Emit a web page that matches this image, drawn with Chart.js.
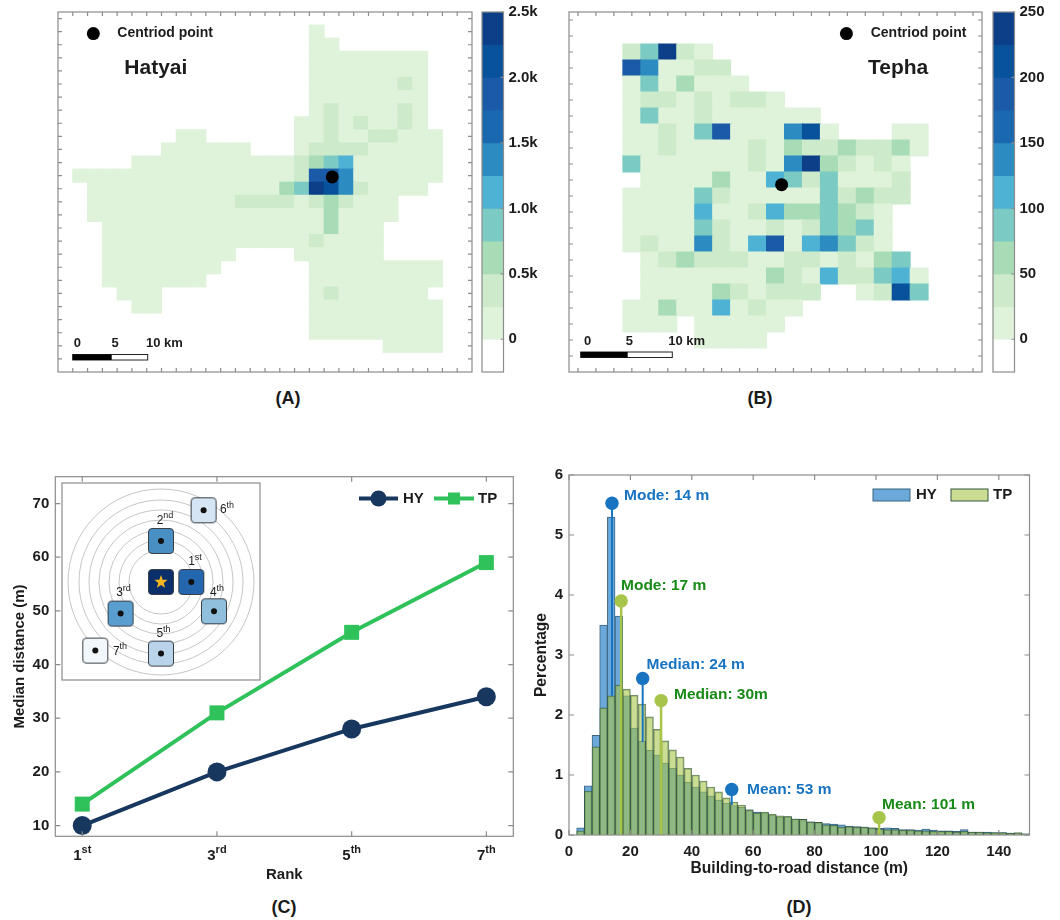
<!DOCTYPE html>
<html>
<head>
<meta charset="utf-8">
<title>Building-to-road distance, Hatyai and Tepha</title>
<script src="https://cdn.jsdelivr.net/npm/chart.js@4"></script>
<style>
  body { margin: 0; background: #fff; }
  canvas { position: absolute; }
  .cap { position: absolute; font: bold 18px "Liberation Sans", Arial, sans-serif; color: #1a1a1a;
         transform: translate(-50%, -50%); }
</style>
</head>
<body>
<canvas id="mapA"></canvas><canvas id="barA"></canvas>
<canvas id="mapB"></canvas><canvas id="barB"></canvas>
<canvas id="rankChart"></canvas><canvas id="inset"></canvas>
<canvas id="histChart"></canvas>
<div class="cap" style="left:288px;top:398px">(A)</div>
<div class="cap" style="left:760px;top:398px">(B)</div>
<div class="cap" style="left:284px;top:907px">(C)</div>
<div class="cap" style="left:799px;top:907px">(D)</div>
<script>
// colour bar: band 0 is below zero (white), bands 1-10 go up in equal steps
const bandColors = ['#ffffff', '#dff2da', '#cdeacb', '#a8dcb6', '#7bcac3', '#4eb2d4', '#2c8bc0', '#1a68b0', '#1a5aa6', '#08529c', '#0c3f88'];
const hatyaiEdges = [-0.25, 0, 0.25, 0.5, 0.75, 1, 1.25, 1.5, 1.75, 2, 2.25, 2.5];
const hatyaiTicks = [0, 0.5, 1, 1.5, 2, 2.5];
const hatyaiTickLabels = ['0', '0.5k', '1.0k', '1.5k', '2.0k', '2.5k'];
const tephaEdges = [-25, 0, 25, 50, 75, 100, 125, 150, 175, 200, 225, 250];
const tephaTicks = [0, 50, 100, 150, 200, 250];
const tephaTickLabels = ['0', '50', '100', '150', '200', '250'];

// grid cells as colour bands: [row, first column, bands], 0 = no data
const hatyaiCells = [
  [1, 17, [1]],
  [2, 17, [1, 1]],
  [3, 17, [1, 1, 1, 1, 1, 1, 1, 1]],
  [4, 17, [1, 1, 1, 1, 1, 1, 1, 1]],
  [5, 17, [1, 1, 1, 1, 1, 1, 2, 1]],
  [6, 17, [1, 1, 1, 1, 1, 1, 1, 1]],
  [7, 17, [1, 2, 1, 1, 1, 1, 2, 1]],
  [8, 16, [1, 1, 2, 1, 2, 1, 1, 2, 1]],
  [9, 8, [1, 1, 0, 0, 0, 0, 0, 0, 1, 1, 2, 1, 1, 2, 2, 1, 1, 1]],
  [10, 7, [1, 1, 1, 1, 1, 1, 0, 0, 0, 1, 2, 2, 2, 2, 1, 1, 1, 1, 1]],
  [11, 5, [1, 1, 1, 1, 1, 1, 1, 1, 1, 1, 1, 2, 3, 4, 5, 1, 1, 1, 1, 1, 1]],
  [12, 1, [1, 1, 1, 1, 1, 1, 1, 1, 1, 1, 1, 1, 1, 1, 1, 2, 8, 8, 6, 1, 1, 1, 1, 1, 1]],
  [13, 2, [1, 1, 1, 1, 1, 1, 1, 1, 1, 1, 1, 1, 1, 3, 4, 10, 9, 6, 2, 1, 1, 1, 1]],
  [14, 2, [1, 1, 1, 1, 1, 1, 1, 1, 1, 1, 2, 2, 2, 2, 1, 2, 3, 2, 1, 1, 1]],
  [15, 2, [1, 1, 1, 1, 1, 1, 1, 1, 1, 1, 1, 1, 1, 1, 1, 1, 3, 1, 1, 1, 1]],
  [16, 3, [1, 1, 1, 1, 1, 1, 1, 1, 1, 1, 1, 1, 1, 1, 1, 3, 1, 1, 1]],
  [17, 3, [1, 1, 1, 1, 1, 1, 1, 1, 1, 1, 1, 1, 1, 1, 2, 1, 1, 1, 1]],
  [18, 3, [1, 1, 1, 1, 1, 1, 1, 1, 1, 0, 0, 0, 0, 1, 1, 1, 1, 1, 1]],
  [19, 3, [1, 1, 1, 1, 1, 1, 1, 1, 0, 0, 0, 0, 0, 0, 1, 1, 1, 1, 1, 1, 1, 1, 1]],
  [20, 3, [1, 1, 1, 1, 1, 1, 1, 0, 0, 0, 0, 0, 0, 0, 1, 1, 1, 1, 1, 1, 1, 1, 1]],
  [21, 4, [1, 1, 1, 0, 0, 0, 0, 0, 0, 0, 0, 0, 0, 1, 2, 1, 1, 1, 1, 1, 1]],
  [22, 5, [1, 1, 0, 0, 0, 0, 0, 0, 0, 0, 0, 0, 1, 1, 1, 1, 1, 1, 1, 1, 1]],
  [23, 17, [1, 1, 1, 1, 1, 1, 1, 1, 1]],
  [24, 17, [1, 1, 1, 1, 1, 1, 1, 1, 1]],
  [25, 22, [1, 1, 1, 1]]
];
const tephaCells = [
  [2, 3, [2, 4, 10, 2, 1]],
  [3, 3, [8, 6, 1, 1, 2, 2]],
  [4, 3, [1, 4, 1, 3, 1, 1, 1]],
  [5, 3, [1, 2, 2, 1, 2, 1, 2, 2, 1]],
  [6, 3, [1, 4, 1, 1, 2, 1, 1, 1, 1, 1, 1]],
  [7, 3, [1, 1, 2, 1, 4, 8, 1, 1, 1, 6, 9, 1, 0, 0, 0, 1, 1]],
  [8, 3, [1, 1, 2, 1, 1, 1, 1, 2, 1, 3, 2, 2, 3, 2, 2, 3, 1]],
  [9, 3, [4, 1, 1, 1, 1, 1, 1, 2, 1, 6, 10, 3, 2, 1, 2, 1]],
  [10, 4, [1, 1, 1, 1, 3, 1, 1, 5, 4, 2, 4, 1, 1, 1, 2]],
  [11, 3, [1, 1, 1, 1, 4, 2, 1, 1, 1, 1, 1, 4, 2, 3, 2, 2]],
  [12, 3, [1, 1, 1, 1, 5, 1, 1, 2, 5, 3, 3, 4, 3, 2, 1]],
  [13, 3, [1, 1, 1, 1, 4, 2, 1, 1, 2, 1, 2, 4, 3, 4, 1]],
  [14, 3, [1, 2, 1, 1, 6, 2, 1, 5, 8, 1, 5, 6, 4, 2, 1]],
  [15, 4, [1, 2, 3, 2, 2, 2, 1, 1, 2, 2, 1, 2, 1, 3, 4]],
  [16, 4, [1, 1, 1, 1, 1, 1, 1, 3, 2, 1, 5, 2, 2, 4, 5, 1]],
  [17, 4, [1, 1, 1, 1, 3, 2, 1, 2, 2, 2, 0, 0, 1, 2, 9, 4]],
  [18, 3, [1, 1, 3, 1, 1, 5, 1, 2, 1, 1]],
  [19, 3, [1, 1, 1, 0, 1, 1, 1, 1, 1]],
  [20, 7, [1, 1, 1, 1]]
];
const hatyaiCentroid = [{ x: 18.55, y: 12.6 }];
const tephaCentroid = [{ x: 11.84, y: 10.79 }];
const hatyaiKey = [{ x: 2.39, y: 1.65 }];
const tephaKey = [{ x: 15.45, y: 1.35 }];

// panel C
const ranks = [1, 3, 5, 7];
const rankLabels = [['1', 'st'], ['3', 'rd'], ['5', 'th'], ['7', 'th']];
const hyMedian = [10, 20, 28, 34];
const tpMedian = [14, 31, 46, 59];
const medianTicks = [10, 20, 30, 40, 50, 60, 70];

// inset of panel C: neighbour cells around the centre cell
const ringRadii = [32, 42, 52, 62, 72, 82, 93];
const neighbourX = [129.3, 99, 58.6, 152, 99, 141.6, 33.3];
const neighbourY = [99, 58, 130.6, 128.3, 170.6, 27.3, 167.6];
const neighbourShades = ['#2567ae', '#4a8fc4', '#5a9ecf', '#8fbfdc', '#b9d3ea', '#d5e5f4', '#f2f7fc'];

// panel D, bins are 2.5 m wide
const binStarts = [2.5, 5, 7.5, 10, 12.5, 15, 17.5, 20, 22.5, 25, 27.5, 30, 32.5, 35, 37.5, 40, 42.5, 45, 47.5, 50,
  52.5, 55, 57.5, 60, 62.5, 65, 67.5, 70, 72.5, 75, 77.5, 80, 82.5, 85, 87.5, 90, 92.5, 95, 97.5, 100,
  102.5, 105, 107.5, 110, 112.5, 115, 117.5, 120, 122.5, 125, 127.5, 130, 132.5, 135, 137.5, 140, 142.5, 145, 147.5];
const hyPercent = [.12, .82, 1.66, 3.5, 5.3, 3.65, 2.32, 1.78, 1.56, 1.41, 1.33, 1.2, 1.11, 1.0, .88, .8, .72, .65, .58, .53,
  .49, .46, .42, .38, .37, .33, .3, .3, .26, .26, .22, .21, .19, .18, .17, .15, .14, .13, .12, .11,
  .12, .11, .09, .09, .08, .1, .08, .07, .07, .06, .09, .05, .05, .05, .04, .04, .03, .03, .02];
const tpPercent = [.07, .73, 1.47, 2.12, 2.32, 2.5, 2.43, 2.33, 2.18, 1.97, 1.76, 1.57, 1.42, 1.3, 1.11, 1.0, .9, .8, .72, .62,
  .55, .5, .42, .37, .38, .35, .32, .31, .27, .26, .22, .21, .17, .16, .13, .14, .13, .13, .12, .1,
  .09, .09, .08, .08, .07, .07, .06, .06, .06, .05, .06, .05, .05, .04, .04, .04, .03, .04, .02];
const hyStatX = [14, 24, 53];
const hyStatTop = [5.53, 2.61, 0.76];
const hyStatFoot = [2.32, 1.55, 0.5];
const tpStatX = [17, 30, 101];
const tpStatTop = [3.9, 2.24, 0.29];
const percentTicks = [0, 1, 2, 3, 4, 5, 6];
const distanceTicks = [0, 20, 40, 60, 80, 100, 120, 140];

const FONT = '"Liberation Sans", Arial, sans-serif';
const INK = '#1c1c1c';
const FRAME = '#8c8c8c';
Chart.defaults.font.family = FONT;
Chart.defaults.animation = false;
Chart.defaults.responsive = false;
Chart.defaults.layout.autoPadding = false;
Chart.defaults.plugins.legend.display = false;
Chart.defaults.plugins.tooltip.enabled = false;

// box around the plot with short ticks pointing inwards
const framePlugin = {
  id: 'frame',
  afterDatasetsDraw(chart, args, opts) {
    const { ctx, chartArea: a, scales } = chart;
    const len = opts.len || 5;
    ctx.save();
    ctx.strokeStyle = FRAME;
    ctx.lineWidth = 1.2;
    ctx.strokeRect(a.left, a.top, a.right - a.left, a.bottom - a.top);
    ctx.beginPath();
    if (!opts.barOnly) {
      scales.x.ticks.forEach(t => {
        const x = scales.x.getPixelForValue(t.value);
        ctx.moveTo(x, a.bottom); ctx.lineTo(x, a.bottom - len);
        ctx.moveTo(x, a.top); ctx.lineTo(x, a.top + len);
      });
    }
    scales.y.ticks.forEach(t => {
      const y = scales.y.getPixelForValue(t.value);
      ctx.moveTo(a.right, y); ctx.lineTo(a.right - len, y);
      if (!opts.barOnly) { ctx.moveTo(a.left, y); ctx.lineTo(a.left + len, y); }
    });
    ctx.stroke();
    ctx.restore();
  }
};

// text written on top of a chart, x and y are page pixels
function drawNote(ctx, n) {
  const size = n.size || 14;
  ctx.fillStyle = n.color || INK;
  ctx.textBaseline = 'middle';
  ctx.textAlign = 'left';
  const font = `${n.weight || 'bold'} ${size}px ${FONT}`;
  const supFont = `${n.weight || 'bold'} ${Math.round(size * 0.72)}px ${FONT}`;
  ctx.font = font;
  const w = ctx.measureText(n.t).width;
  ctx.font = supFont;
  const sw = n.sup ? ctx.measureText(n.sup).width : 0;
  const left = n.center ? n.x - (w + sw) / 2 : n.x;
  ctx.font = font;
  ctx.fillText(n.t, left, n.y);
  if (n.sup) {
    ctx.font = supFont;
    ctx.fillText(n.sup, left + w, n.y - size * 0.38);
  }
}
const notesPlugin = {
  id: 'notes',
  afterDraw(chart, args, opts) {
    const { ctx, canvas } = chart;
    ctx.save();
    ctx.translate(-canvas.offsetLeft, -canvas.offsetTop);
    (opts.items || []).forEach(n => drawNote(ctx, n));
    if (opts.paint) opts.paint(ctx);
    ctx.restore();
  }
};
Chart.register(framePlugin, notesPlugin);

function place(id, left, top, width, height) {
  const c = document.getElementById(id);
  c.width = width; c.height = height;
  c.style.left = left + 'px'; c.style.top = top + 'px';
  return c;
}
function hiddenAxis(min, max, ticks, reverse) {
  return {
    type: 'linear', min, max, reverse: !!reverse, offset: false,
    grid: { display: false, drawTicks: false }, border: { display: false },
    ticks: { display: false },
    afterBuildTicks: s => { s.ticks = ticks.map(value => ({ value })); }
  };
}
function numberAxis(min, max, ticks, labelOf, size, pad, title) {
  return {
    type: 'linear', min, max, offset: false,
    grid: { display: false, drawTicks: false }, border: { display: false },
    ticks: { color: INK, padding: pad, maxRotation: 0, autoSkip: false, font: { size: 15, weight: 'bold' }, callback: labelOf },
    title: title || { display: false },
    afterBuildTicks: s => { s.ticks = ticks.map(value => ({ value })); },
    afterFit: s => {
      if (s.isHorizontal()) s.height = size; else s.width = size;
      // labels may hang past the plot, the plot keeps its size
      s.paddingTop = s.paddingBottom = s.paddingLeft = s.paddingRight = 0;
    }
  };
}

// the map panels: each cell is a floating bar one column wide and one row high
function mapChart(id, box, cells, xMax, yMax, xTicks, yTicks, centroid, key, notes, scaleBar) {
  const data = [], colors = [];
  cells.forEach(([row, first, bands]) => bands.forEach((b, i) => {
    if (!b) return;
    data.push({ x: first + i + 0.5, y: [row, row + 1] });
    colors.push(bandColors[b]);
  }));
  place(id, box.left - 2, box.top - 2, box.width + 4, box.height + 4);
  return new Chart(id, {
    type: 'bar',
    data: {
      datasets: [
        { type: 'scatter', data: centroid.concat(key), order: 0, pointRadius: 6.5, pointBackgroundColor: '#000', pointBorderWidth: 0 },
        { data, backgroundColor: colors, order: 1, barPercentage: 1, categoryPercentage: 1, borderWidth: 0, inflateAmount: 0.5 }
      ]
    },
    options: {
      layout: { padding: 2 },
      scales: { x: hiddenAxis(0, xMax, xTicks), y: hiddenAxis(0, yMax, yTicks, true) },
      plugins: {
        frame: { len: 4 },
        notes: {
          items: notes,
          paint(ctx) {
            ctx.fillStyle = '#fff'; ctx.strokeStyle = '#222'; ctx.lineWidth = 1;
            ctx.fillRect(scaleBar.x0, scaleBar.y, scaleBar.x2 - scaleBar.x0, scaleBar.h);
            ctx.strokeRect(scaleBar.x0, scaleBar.y, scaleBar.x2 - scaleBar.x0, scaleBar.h);
            ctx.fillStyle = '#000';
            ctx.fillRect(scaleBar.x0, scaleBar.y, scaleBar.x1 - scaleBar.x0, scaleBar.h);
          }
        }
      }
    }
  });
}

function colorBar(id, left, edges, ticks, labels) {
  const data = [], colors = [];
  edges.slice(1).forEach((hi, i) => {
    data.push({ x: 0.5, y: [edges[i], hi] });
    colors.push(bandColors[i]);
  });
  place(id, left - 2, 2, 74, 372);
  return new Chart(id, {
    type: 'bar',
    data: { datasets: [{ data, backgroundColor: colors, barPercentage: 1, categoryPercentage: 1, borderWidth: 0 }] },
    options: {
      layout: { padding: { left: 2, top: 10, bottom: 2 } },
      scales: {
        x: hiddenAxis(0, 1, []),
        y: Object.assign(numberAxis(edges[0], edges[edges.length - 1], ticks, v => labels[ticks.indexOf(v)], 50.5, 5), { position: 'right' })
      },
      plugins: { frame: { len: 3, barOnly: true } }
    }
  });
}

mapChart('mapA', { left: 58, top: 12, width: 414, height: 360 }, hatyaiCells, 28, 27.5,
  [1, 2, 3, 4, 5, 6, 7, 8, 9, 10, 11, 12, 13, 14, 15, 16, 17, 18, 19, 20, 21, 22, 23, 24, 25, 26, 27],
  [.5, 1.5, 2.5, 3.5, 4.5, 5.5, 6.5, 7.5, 8.5, 9.5, 10.5, 11.5, 12.5, 13.5, 14.5, 15.5, 16.5, 17.5, 18.5, 19.5, 20.5, 21.5, 22.5, 23.5, 24.5, 25.5, 26.5],
  hatyaiCentroid, hatyaiKey,
  [
    { t: 'Centriod point', x: 117.3, y: 33, size: 14 },
    { t: 'Hatyai', x: 124.3, y: 68.5, size: 21 },
    { t: '0', x: 77.3, y: 343.5, size: 13, center: true },
    { t: '5', x: 115, y: 343.5, size: 13, center: true },
    { t: '10 km', x: 146, y: 343.5, size: 13 }
  ],
  { x0: 72.7, x1: 111.7, x2: 147.7, y: 354.5, h: 5.5 });
colorBar('barA', 481.5, hatyaiEdges, hatyaiTicks, hatyaiTickLabels);

mapChart('mapB', { left: 569, top: 12, width: 413.5, height: 360 }, tephaCells, 23, 22.5,
  [.5, 1.5, 2.5, 3.5, 4.5, 5.5, 6.5, 7.5, 8.5, 9.5, 10.5, 11.5, 12.5, 13.5, 14.5, 15.5, 16.5, 17.5, 18.5, 19.5, 20.5, 21.5, 22.5],
  [.5, 1.5, 2.5, 3.5, 4.5, 5.5, 6.5, 7.5, 8.5, 9.5, 10.5, 11.5, 12.5, 13.5, 14.5, 15.5, 16.5, 17.5, 18.5, 19.5, 20.5, 21.5],
  tephaCentroid, tephaKey,
  [
    { t: 'Centriod point', x: 870.7, y: 33, size: 14 },
    { t: 'Tepha', x: 868, y: 68.5, size: 21 },
    { t: '0', x: 587.7, y: 341.5, size: 13, center: true },
    { t: '5', x: 629.3, y: 341.5, size: 13, center: true },
    { t: '10 km', x: 668.3, y: 341.5, size: 13 }
  ],
  { x0: 580.7, x1: 627.7, x2: 672.3, y: 352, h: 5.5 });
colorBar('barB', 992.7, tephaEdges, tephaTicks, tephaTickLabels);

// panel C
place('rankChart', 5, 466, 520, 424);
new Chart('rankChart', {
  type: 'line',
  data: {
    datasets: [
      { label: 'HY', data: ranks.map((x, i) => ({ x, y: hyMedian[i] })), borderColor: '#17375f', backgroundColor: '#17375f', borderWidth: 4, pointRadius: 9.5, pointStyle: 'circle', pointBorderWidth: 0 },
      { label: 'TP', data: ranks.map((x, i) => ({ x, y: tpMedian[i] })), borderColor: '#2fc15a', backgroundColor: '#2fc15a', borderWidth: 4, pointRadius: 10.6, pointStyle: 'rect', pointBorderWidth: 0 }
    ]
  },
  options: {
    clip: false,
    layout: { padding: { top: 10.7, right: 11.7 } },
    scales: {
      x: Object.assign(numberAxis(0.6, 7.4, ranks, v => '', 53.7, 0,
        { display: true, text: 'Rank', color: INK, font: { size: 15, weight: 'bold' }, padding: { bottom: 6 } }), { ticks: { display: false } }),
      y: numberAxis(8, 75, medianTicks, v => String(v), 50.3, 6,
        { display: true, text: 'Median distance (m)', color: INK, font: { size: 15, weight: 'bold' }, padding: { top: 6 } })
    },
    plugins: {
      frame: { len: 5 },
      notes: {
        items: [
          { t: 'HY', x: 403, y: 498.5, size: 15 },
          { t: 'TP', x: 478, y: 498.5, size: 15 }
        ],
        paint(ctx) {
          ctx.lineWidth = 4;
          ctx.strokeStyle = '#17375f';
          ctx.beginPath(); ctx.moveTo(359, 498.5); ctx.lineTo(398, 498.5); ctx.stroke();
          ctx.fillStyle = '#17375f';
          ctx.beginPath(); ctx.arc(378.5, 498.5, 8, 0, Math.PI * 2); ctx.fill();
          ctx.strokeStyle = '#2fc15a';
          ctx.beginPath(); ctx.moveTo(434, 498.5); ctx.lineTo(474, 498.5); ctx.stroke();
          ctx.fillStyle = '#2fc15a';
          ctx.fillRect(448, 492.5, 12, 12);
        }
      }
    }
  },
  plugins: [{
    id: 'rankTicks',
    afterDraw(chart) {
      const { ctx, canvas, scales } = chart;
      ctx.save();
      ctx.translate(-canvas.offsetLeft, -canvas.offsetTop);
      ranks.forEach((r, i) => drawNote(ctx, {
        t: rankLabels[i][0], sup: rankLabels[i][1], size: 15, center: true,
        x: scales.x.getPixelForValue(r) + canvas.offsetLeft, y: 856
      }));
      ctx.restore();
    }
  }]
});

// inset: rings and rounded cells, cells are pictures used as point styles
function tile(color, withStar) {
  const c = document.createElement('canvas');
  c.width = 28; c.height = 28;
  const g = c.getContext('2d');
  g.beginPath();
  g.roundRect(1.5, 1.5, 25, 25, 3.5);
  g.fillStyle = color; g.fill();
  g.strokeStyle = '#3a3f45'; g.lineWidth = 1; g.stroke();
  if (withStar) {
    g.beginPath();
    for (let i = 0; i < 10; i++) {
      const r = i % 2 ? 2.9 : 7, a = -Math.PI / 2 + i * Math.PI / 5;
      g.lineTo(14 + r * Math.cos(a), 14 + r * Math.sin(a));
    }
    g.closePath();
    g.fillStyle = '#f7b51f'; g.fill();
  }
  return c;
}
const insetCentre = { x: 99, y: 99 };
const neighbourPoints = neighbourX.map((x, i) => ({ x, y: neighbourY[i] }));
place('inset', 60.7, 481.7, 200, 199);
new Chart('inset', {
  type: 'scatter',
  data: {
    datasets: [
      { data: neighbourPoints, order: 0, pointRadius: 3, pointBackgroundColor: '#111', pointBorderWidth: 0 },
      { data: neighbourPoints.concat([insetCentre]), order: 1, pointRadius: 14,
        pointStyle: neighbourShades.map(s => tile(s, false)).concat([tile('#0a2f6b', true)]) },
      { data: ringRadii.map(() => insetCentre), order: 2, pointRadius: ringRadii, pointBackgroundColor: 'rgba(0,0,0,0)', pointBorderColor: '#c6c6c6', pointBorderWidth: 1 }
    ]
  },
  options: {
    layout: { padding: 1 },
    scales: {
      x: hiddenAxis(0, 198, []),
      y: hiddenAxis(0, 197, [], true)
    },
    plugins: {
      frame: { len: 0 },
      notes: {
        items: [
          { t: '1', sup: 'st', x: 195, y: 562, size: 12, weight: 'normal', center: true },
          { t: '2', sup: 'nd', x: 165, y: 520.5, size: 12, weight: 'normal', center: true },
          { t: '3', sup: 'rd', x: 123.5, y: 593, size: 12, weight: 'normal', center: true },
          { t: '4', sup: 'th', x: 217, y: 593, size: 12, weight: 'normal', center: true },
          { t: '5', sup: 'th', x: 163.5, y: 634, size: 12, weight: 'normal', center: true },
          { t: '6', sup: 'th', x: 227, y: 510, size: 12, weight: 'normal', center: true },
          { t: '7', sup: 'th', x: 120, y: 651.5, size: 12, weight: 'normal', center: true }
        ]
      }
    }
  }
});

// panel D
const HY_BLUE = '#1873c0', TP_OLIVE = '#a8c54b';
function stem(x, top, foot, color, order, width) {
  return {
    type: 'line', data: [{ x, y: top }, { x, y: foot }], order, borderColor: color, borderWidth: width,
    pointRadius: [6.7, 0], pointBackgroundColor: color, pointBorderWidth: 0
  };
}
place('histChart', 530, 465, 511, 420);
new Chart('histChart', {
  type: 'bar',
  data: {
    datasets: [
      { label: 'HY', data: binStarts.map((b, i) => ({ x: b + 1.25, y: hyPercent[i] })), order: 5, grouped: false, barPercentage: 1, categoryPercentage: 1,
        backgroundColor: '#6aa9d9', borderColor: '#3a6482', borderWidth: 1 },
      { label: 'TP', data: binStarts.map((b, i) => ({ x: b + 1.25, y: tpPercent[i] })), order: 3, grouped: false, barPercentage: 1, categoryPercentage: 1,
        backgroundColor: 'rgba(168,197,75,0.6)', borderColor: 'rgba(52,88,58,0.7)', borderWidth: 1 }
    ].concat(
      hyStatX.map((x, i) => stem(x, hyStatTop[i], hyStatFoot[i], HY_BLUE, 2, 2)),
      tpStatX.map((x, i) => stem(x, tpStatTop[i], 0, TP_OLIVE, 1, 2.5))
    )
  },
  options: {
    layout: { padding: { top: 10, right: 11.5 } },
    scales: {
      x: numberAxis(0, 150, distanceTicks, v => String(v), 50, 8,
        { display: true, text: 'Building-to-road distance (m)', color: INK, font: { size: 15.6, weight: 'bold' }, padding: { bottom: 7 } }),
      y: numberAxis(0, 6, percentTicks, v => String(v), 39, 6,
        { display: true, text: 'Percentage', color: INK, font: { size: 15.6, weight: 'bold' }, padding: { top: 2 } })
    },
    plugins: {
      frame: { len: 5 },
      notes: {
        items: [
          { t: 'Mode: 14 m', x: 624, y: 496, size: 15.5, color: HY_BLUE },
          { t: 'Mode: 17 m', x: 621, y: 586, size: 15.5, color: '#178a17' },
          { t: 'Median: 24 m', x: 646.5, y: 665, size: 15.5, color: HY_BLUE },
          { t: 'Median: 30m', x: 674, y: 695, size: 15.5, color: '#178a17' },
          { t: 'Mean: 53 m', x: 747, y: 790, size: 15.5, color: HY_BLUE },
          { t: 'Mean: 101 m', x: 882, y: 805, size: 15.5, color: '#178a17' },
          { t: 'HY', x: 916, y: 495, size: 15 },
          { t: 'TP', x: 993, y: 495, size: 15 }
        ],
        paint(ctx) {
          ctx.lineWidth = 1;
          ctx.fillStyle = '#6aa9d9'; ctx.strokeStyle = '#3a6482';
          ctx.fillRect(873, 489, 37, 12); ctx.strokeRect(873, 489, 37, 12);
          ctx.fillStyle = '#cbdc93'; ctx.strokeStyle = '#34583a';
          ctx.fillRect(951, 489, 37, 12); ctx.strokeRect(951, 489, 37, 12);
        }
      }
    }
  }
});
</script>
</body>
</html>
